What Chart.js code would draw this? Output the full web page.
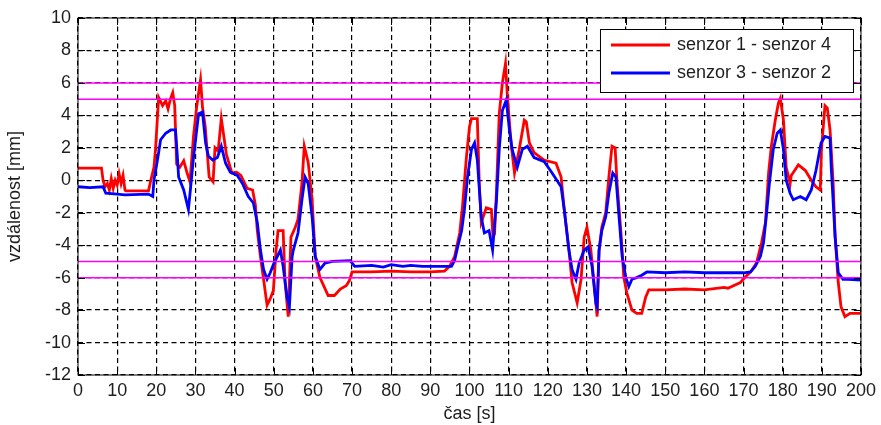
<!DOCTYPE html>
<html>
<head>
<meta charset="utf-8">
<script src="https://cdn.jsdelivr.net/npm/chart.js@4/dist/chart.umd.min.js"></script>
<style>
  html, body { margin: 0; padding: 0; background: #fff; }
  #wrap { width: 881px; height: 425px; }
</style>
</head>
<body>
<div id="wrap"><canvas id="myChart"></canvas></div>
<script>
// senzor 1 - senzor 4 (red)
var time14 = [0, 6, 6.4, 6.9, 7.5, 8, 8.5, 9, 9.5, 10, 10.5, 11, 11.5, 12, 12.2, 15, 18, 18.6, 19.4, 19.8, 20.3, 20.6,
    21.6, 22.4, 23, 23.6, 24.2, 24.7, 25.2, 26, 27, 27.8, 28.6, 29.5, 30.3, 31.3, 31.8, 32.5, 33.5, 34.5, 35, 35.8,
    36.6, 37.9, 39.3, 40.5, 41.6, 43.2, 44.6, 45.3, 45.8, 46.6, 47.4, 48.3, 49.1, 49.9, 50.6, 51.1, 52.4, 52.9,
    53.7, 54.4, 55.5, 56.2, 57.2, 57.8, 58.8, 59.8, 60.6, 61.8, 63.9, 65.5, 67, 68.5, 69.3, 70, 75, 80, 85, 90,
    93.6, 94.9, 96.2, 97.5, 98.2, 99.2, 100, 100.5, 102, 102.5, 103, 104.3, 105.6, 106, 106.4, 106.9, 107.6,
    108.4, 109.2, 109.7, 110.7, 111.5, 112.7, 114, 114.5, 115.3, 116.5, 119, 122.1, 123.4, 124.2, 125.4, 126.2,
    127.5, 128.5, 129.3, 130, 131, 131.8, 132.6, 133.1, 133.8, 134.8, 135.6, 136.4, 137.2, 137.7, 138.7, 139.4,
    140.2, 141.5, 142.7, 144, 145, 145.8, 150, 155, 160, 165, 166, 169.2, 170.5, 171.8, 173.3, 174.6, 175.6,
    176.4, 177.1, 178.1, 178.9, 179.4, 180.2, 180.9, 181.9, 182.2, 184, 185.8, 187.3, 188.5, 189.6, 189.9,
    190.8, 191.4, 192.1, 192.9, 193.4, 194.2, 194.9, 195.9, 197.2, 200];
var sensor14 = [0.75, 0.75, 0.0, -0.4, -0.2, -0.6, 0.1, -0.5, 0.0, -0.3, 0.4, -0.2, 0.3, -0.6, -0.65, -0.65, -0.65, 0.0, 0.8, 1.9, 3.9, 5.1,
    4.6, 4.9, 4.4, 5.0, 5.4, 4.6, 1.0, 0.8, 1.2, 0.5, -0.1, 2.7, 4.5, 6.2, 4.5, 3.3, 0.2, -0.1, 2.0, 1.8,
    3.8, 1.6, 0.45, 0.5, 0.3, -0.5, -0.6, -1.5, -3.1, -4.7, -6.1, -7.7, -7.3, -6.8, -4.3, -3.1, -3.1, -6.3,
    -8.4, -3.5, -2.9, -2.4, -0.2, 2.1, 1.1, -1.2, -4.7, -6.0, -7.1, -7.1, -6.7, -6.5, -6.2, -5.65, -5.65, -5.6, -5.65, -5.65,
    -5.6, -5.3, -4.7, -3.25, -1.65, 1.4, 3.3, 3.8, 3.8, -0.2, -2.6, -1.7, -1.8, -3.5, -3.3, -0.6, 4.1,
    6.0, 7.2, 5.1, 2.1, 0.45, 1.9, 3.7, 3.6, 2.3, 1.7, 1.25, 1.05, 0.2, -1.8, -4.3, -6.3,
    -7.55, -6.1, -3.5, -2.9, -4.3, -6.3, -8.4, -4.3, -2.9, -2.0, 0.2, 2.1, 2.0, -0.2, -3.25, -5.95,
    -6.95, -8.0, -8.2, -8.2, -7.2, -6.75, -6.75, -6.7, -6.75, -6.6, -6.65, -6.3, -5.95, -5.65, -5.1, -3.85, -2.6,
    0.45, 2.1, 3.7, 4.75, 5.05, 3.7, 0.8, -0.2, 0.3, 0.95, 0.6, 0.0, -0.4, -0.6, 1.9,
    4.6, 4.45, 3.1, -0.2, -3.5, -6.3, -7.8, -8.4, -8.2, -8.2];

// senzor 3 - senzor 2 (blue)
var time32 = [0, 3, 6.4, 7.1, 10, 12, 18, 19.1, 19.4, 20.4, 21.1, 22.4, 23.7, 24.9, 25.4, 25.7, 27, 28.2, 28.7, 29.5,
    30.8, 31.8, 32.6, 33.3, 34.4, 35.6, 36.6, 37.7, 38.9, 40.7, 42, 43.5, 44.8, 45.8, 46.6, 47.4, 48.3, 49.1,
    49.9, 50.9, 51.7, 52.4, 53.4, 54, 54.7, 55, 56.2, 57.2, 58, 58.8, 59.8, 60.6, 61.8, 63.1, 65, 69.5, 70.7,
    75, 78, 80, 83, 85, 88, 90, 95.4, 96.2, 97, 98, 98.7, 99.5, 100.5, 101.3, 102, 103, 103.8, 105, 105.9,
    106.9, 107.6, 108.4, 109.4, 110.2, 110.9, 112.2, 113.5, 114.8, 116.5, 119.1, 121.1, 123.4, 124.2, 125.4,
    126.2, 127.2, 128, 129.3, 130.3, 131.3, 132.3, 132.6, 133.1, 133.8, 134.8, 135.6, 136.6, 137.4, 138.2,
    139, 139.9, 140.7, 141.5, 142.7, 144, 145.3, 150, 155, 160, 165, 170, 171.8, 173, 174.3, 175.1, 175.8,
    176.6, 177.6, 178.6, 179.4, 180.2, 180.9, 181.9, 182.7, 184.5, 186, 187.3, 188.5, 189.8, 190.8, 192.1,
    192.4, 193.4, 194.2, 195.4, 196.7, 200];
var sensor32 = [-0.4, -0.45, -0.4, -0.8, -0.85, -0.9, -0.85, -1.0, 0.0, 1.4, 2.5, 2.9, 3.1, 3.1, 1.4, 0.2, -0.6, -1.8, -0.6, 1.4,
    4.1, 4.2, 2.3, 1.5, 1.25, 1.4, 2.1, 1.05, 0.5, 0.3, -0.2, -1.0, -1.4, -2.6, -4.3, -5.5, -6.1, -5.7,
    -5.2, -4.7, -4.3, -5.3, -7.2, -7.8, -4.7, -4.3, -3.25, -1.2, 0.2, -0.2, -2.25, -4.7, -5.5, -5.1, -5.0, -4.95, -5.3,
    -5.25, -5.35, -5.2, -5.3, -5.25, -5.3, -5.3, -5.3, -4.95, -4.1, -3.1, -1.8, 0.2, 1.9, 2.3, 1.25, -2.25, -3.25, -3.1, -4.3,
    -1.2, 1.9, 4.3, 4.95, 3.1, 1.9, 0.8, 1.9, 2.1, 1.4, 1.15, 0.45, -0.4, -1.8, -4.3,
    -5.5, -6.1, -5.1, -4.3, -4.1, -5.3, -7.6, -7.8, -4.3, -3.1, -2.25, -0.8, 0.45, 0.2, -2.25,
    -4.7, -5.95, -6.55, -6.1, -6.0, -5.85, -5.65, -5.7, -5.65, -5.7, -5.7, -5.7, -5.65, -5.3, -4.7, -3.85, -2.25,
    -0.2, 1.9, 2.9, 3.1, 1.9, 0.0, -0.8, -1.2, -1.0, -1.2, -0.6, 0.6, 2.3, 2.7, 2.6,
    0.8, -3.5, -5.7, -6.1, -6.1, -6.15];

var limitLevels = [6, 5, -5, -6];
var xRange = [0, 200];
var yRange = [-12, 10];
var seriesNames = ['senzor 1 - senzor 4', 'senzor 3 - senzor 2'];

function toPoints(xs, ys) {
    return xs.map(function (x, i) { return { x: x, y: ys[i] }; });
}

var FONT = 'Liberation Sans, Arial, sans-serif';
var TEXT = '#1e1e1e';

var datasets = [
    { label: seriesNames[0], data: toPoints(time14, sensor14), borderColor: '#ff0000', backgroundColor: '#ff0000',
      borderWidth: 2.8, pointRadius: 0, tension: 0, order: 2 },
    { label: seriesNames[1], data: toPoints(time32, sensor32), borderColor: '#0000ff', backgroundColor: '#0000ff',
      borderWidth: 2.8, pointRadius: 0, tension: 0, order: 1 }
];
limitLevels.forEach(function (lv) {
    datasets.push({ label: 'limit', data: [{ x: xRange[0], y: lv }, { x: xRange[1], y: lv }],
        borderColor: '#ff00ff', borderWidth: 1.5, pointRadius: 0, order: 0 });
});

// box, inward ticks and legend drawn like a matlab axes
var frame = {
    id: 'frame',
    afterDatasetsDraw: function (chart) {
        var ctx = chart.ctx, a = chart.chartArea, x = chart.scales.x, y = chart.scales.y;
        ctx.save();
        ctx.strokeStyle = '#000';
        ctx.lineWidth = 1;
        ctx.setLineDash([]);
        ctx.strokeRect(a.left, a.top, a.right - a.left, a.bottom - a.top);
        ctx.beginPath();
        x.ticks.forEach(function (t) {
            var px = Math.round(x.getPixelForValue(t.value)) + 0.5;
            ctx.moveTo(px, a.bottom); ctx.lineTo(px, a.bottom - 7);
            ctx.moveTo(px, a.top); ctx.lineTo(px, a.top + 7);
        });
        y.ticks.forEach(function (t) {
            var py = Math.round(y.getPixelForValue(t.value)) + 0.5;
            ctx.moveTo(a.left, py); ctx.lineTo(a.left + 7, py);
            ctx.moveTo(a.right, py); ctx.lineTo(a.right - 7, py);
        });
        ctx.stroke();

        // legend
        var w = 253, h = 63;
        var lx = a.right - 8 - w, ly = a.top + 11;
        ctx.fillStyle = '#fff';
        ctx.fillRect(lx, ly, w, h);
        ctx.strokeRect(lx + 0.5, ly + 0.5, w, h);
        ctx.font = '18px ' + FONT;
        ctx.textBaseline = 'middle';
        [0, 1].forEach(function (i) {
            var yy = ly + 16 + i * 28;
            ctx.strokeStyle = datasets[i].borderColor;
            ctx.lineWidth = 2.8;
            ctx.beginPath();
            ctx.moveTo(lx + 11, yy); ctx.lineTo(lx + 70, yy);
            ctx.stroke();
            ctx.fillStyle = TEXT;
            ctx.fillText(seriesNames[i], lx + 77, yy);
        });
        ctx.restore();
    }
};

var ctx = document.getElementById('myChart').getContext('2d');
var myChart = new Chart(ctx, {
    type: 'line',
    data: { datasets: datasets },
    options: {
        responsive: true,
        maintainAspectRatio: false,
        animation: false,
        parsing: false,
        layout: { padding: { left: 0, right: 17, top: 18, bottom: 0 } },
        plugins: {
            legend: { display: false },
            tooltip: { enabled: false }
        },
        scales: {
            x: {
                type: 'linear',
                min: xRange[0], max: xRange[1],
                afterFit: function (s) { s.height = 50; },
                grid: { color: '#000', lineWidth: 1.2, drawTicks: false },
                border: { display: false, dash: [5, 3.5] },
                ticks: { stepSize: 10, autoSkip: false, maxRotation: 0, padding: 5,
                         color: TEXT, font: { family: FONT, size: 18 } },
                title: { display: true, text: 'čas [s]', color: TEXT, padding: 0,
                         font: { family: FONT, size: 18 } }
            },
            y: {
                type: 'linear',
                min: yRange[0], max: yRange[1],
                afterFit: function (s) { s.width = 78; },
                grid: { color: '#000', lineWidth: 1.2, drawTicks: false },
                border: { display: false, dash: [5, 3.5] },
                ticks: { stepSize: 2, autoSkip: false, padding: 7,
                         color: TEXT, font: { family: FONT, size: 18 } },
                title: { display: true, text: 'vzdálenost [mm]', color: TEXT, padding: { top: 4, bottom: 0 },
                         font: { family: FONT, size: 18 } }
            }
        }
    },
    plugins: [frame]
});
</script>
</body>
</html>
